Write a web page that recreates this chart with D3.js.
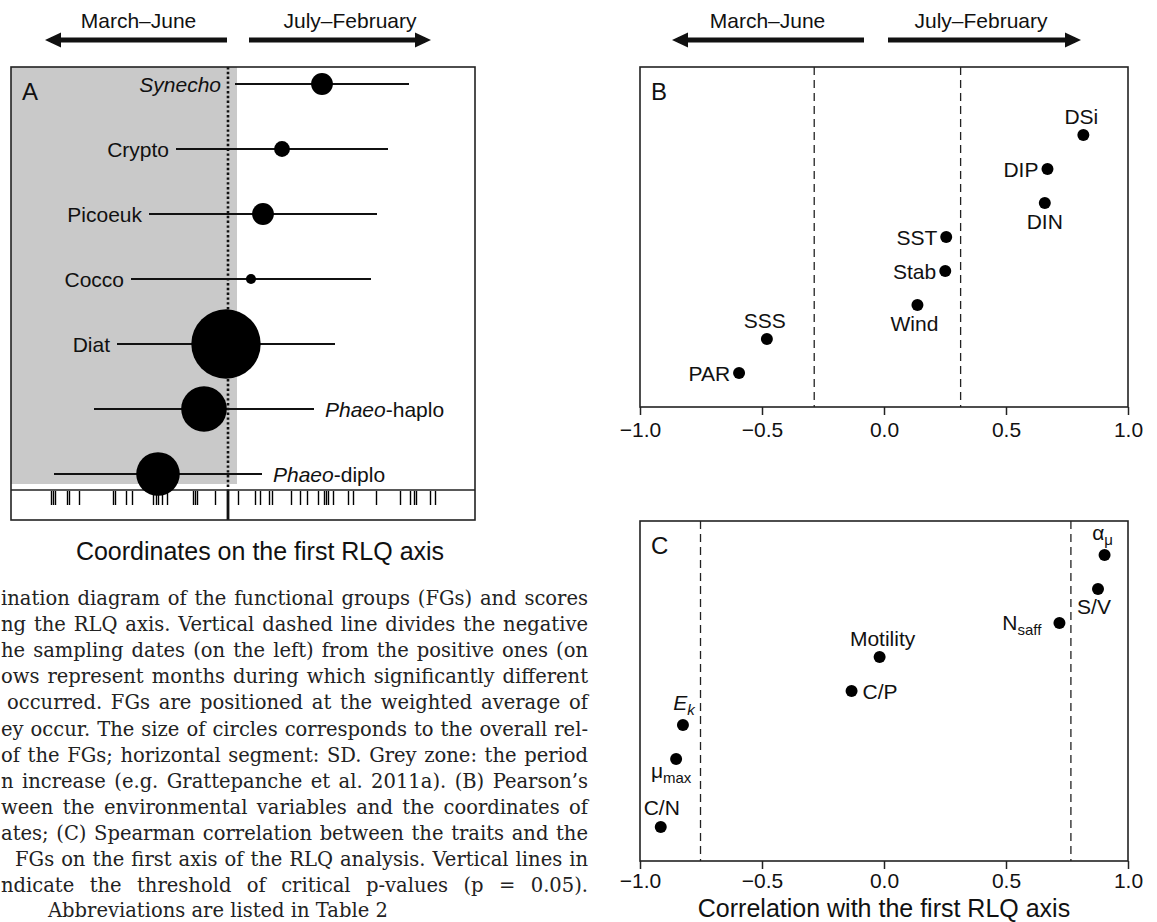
<!DOCTYPE html>
<html><head><meta charset="utf-8">
<script src="https://cdn.jsdelivr.net/npm/d3@7"></script>
<style>body{margin:0;background:#fff}svg{display:block}</style>
</head><body>
<svg id="fig" width="1157" height="922"></svg>
<script>
// ---------- Panel A data ----------
const fgNames = ["Synecho","Crypto","Picoeuk","Cocco","Diat","Phaeo-haplo","Phaeo-diplo"];
const fgMean = [0.94, 0.54, 0.35, 0.23, -0.02, -0.24, -0.70];
const fgSD = [0.87, 1.06, 1.14, 1.20, 1.09, 1.10, 1.04];
const fgAbundance = [4.7, 2.5, 4.7, 1.0, 47.7, 20.6, 18.8];
const samplingScores = [-1.77,-1.75,-1.73,-1.61,-1.59,-1.49,-1.15,-1.13,-1.02,-0.96,
  -0.75,-0.72,-0.70,-0.66,-0.61,-0.35,-0.33,-0.31,-0.13,0.10,0.27,0.32,0.41,0.44,
  0.63,0.72,0.79,0.90,0.96,0.98,1.00,1.05,1.20,1.25,1.48,1.72,1.82,1.86,1.88,2.02,2.07];
const greyZoneEnd = 0.09;
const periodLabels = ["March–June","July–February"];

// ---------- Panel B data ----------
const envVars = ["DSi","DIP","DIN","SST","Stab","Wind","SSS","PAR"];
const envCorr = [0.817, 0.670, 0.659, 0.255, 0.251, 0.137, -0.480, -0.594];
const envRank = [2,3,4,5,6,7,8,9];
const envThreshold = [-0.286, 0.314];

// ---------- Panel C data ----------
const traits = ["αμ","S/V","Nsaff","Motility","C/P","Ek","μmax","C/N"];
const traitCorr = [0.904, 0.877, 0.719, -0.018, -0.133, -0.824, -0.852, -0.915];
const traitRank = [1,2,3,4,5,6,7,9];
const traitThreshold = [-0.752, 0.766];

const corrTicks = [-1, -0.5, 0, 0.5, 1];
const axisTitleA = "Coordinates on the first RLQ axis";
const axisTitleC = "Correlation with the first RLQ axis";

const captionLines = [
  "ination diagram of the functional groups (FGs) and scores",
  "ng the RLQ axis. Vertical dashed line divides the negative",
  "he sampling dates (on the left) from the positive ones (on",
  "ows represent months during which significantly different",
  "occurred. FGs are positioned at the weighted average of",
  "ey occur. The size of circles corresponds to the overall rel-",
  "of the FGs; horizontal segment: SD. Grey zone: the period",
  "n increase (e.g. Grattepanche et al. 2011a). (B) Pearson’s",
  "ween the environmental variables and the coordinates of",
  "ates; (C) Spearman correlation between the traits and the",
  "FGs on the first axis of the RLQ analysis. Vertical lines in",
  "ndicate the threshold of critical p-values (p = 0.05).",
  "Abbreviations are listed in Table 2"
];

// ---------- drawing ----------
const svg = d3.select("#fig");
const SANS = "'Liberation Sans', Arial, Helvetica, sans-serif";
const INK = "#111";

function arrow(g, xFrom, xTip, y) {
  const dir = Math.sign(xTip - xFrom), hl = 16, hw = 7.5, t = 2.6;
  const xb = xTip - dir*hl;
  g.append("path")
    .attr("d", `M${xFrom},${y-t}L${xb},${y-t}L${xb},${y-hw}L${xTip},${y}L${xb},${y+hw}L${xb},${y+t}L${xFrom},${y+t}Z`)
    .attr("fill", INK);
}
function header(cx1, cx2, a1, a2, b1, b2) {
  const g = svg.append("g");
  g.append("text").attr("x", cx1).attr("y", 28).attr("text-anchor","middle")
    .attr("font-family", SANS).attr("font-size", 21).attr("fill", INK).text(periodLabels[0]);
  g.append("text").attr("x", cx2).attr("y", 28).attr("text-anchor","middle")
    .attr("font-family", SANS).attr("font-size", 21).attr("fill", INK).text(periodLabels[1]);
  arrow(g, a2, a1, 40);
  arrow(g, b1, b2, 40);
}

// ===== Panel A =====
const A = {left: 11, right: 475, top: 67, bottom: 490, rugBottom: 520};
const xA = d3.scaleLinear().domain([-2.17, 2.47]).range([A.left, A.right]);
const yA = d3.scalePoint().domain(fgNames).range([84, 474]);
const rA = d3.scaleSqrt().domain([0, d3.max(fgAbundance)]).range([0, 34.7]);
const gA = svg.append("g");

gA.append("rect").attr("x", A.left).attr("y", A.top)
  .attr("width", xA(greyZoneEnd) - A.left).attr("height", 484 - A.top).attr("fill", "#c9c9c9");
// zero line (dotted)
gA.append("line").attr("x1", xA(0)).attr("x2", xA(0)).attr("y1", A.top).attr("y2", A.bottom)
  .attr("stroke", INK).attr("stroke-width", 2.6).attr("stroke-dasharray", "2.4,2.4");
// rug
gA.selectAll("line.rug").data(samplingScores).join("line").attr("class","rug")
  .attr("x1", d => Math.round(xA(d)) + 0.5).attr("x2", d => Math.round(xA(d)) + 0.5)
  .attr("y1", A.bottom + 1).attr("y2", A.bottom + 15)
  .attr("stroke", "#000").attr("stroke-width", 1.4);
gA.append("line").attr("x1", xA(0)).attr("x2", xA(0)).attr("y1", A.bottom).attr("y2", A.rugBottom)
  .attr("stroke", INK).attr("stroke-width", 2.8);
// frame
gA.append("rect").attr("x", A.left).attr("y", A.top).attr("width", A.right - A.left)
  .attr("height", A.rugBottom - A.top).attr("fill", "none").attr("stroke", "#222").attr("stroke-width", 1.6);
gA.append("line").attr("x1", A.left).attr("x2", A.right).attr("y1", A.bottom).attr("y2", A.bottom)
  .attr("stroke", "#222").attr("stroke-width", 1.6);

const fg = fgNames.map((n, i) => ({name: n, mean: fgMean[i], sd: fgSD[i], ab: fgAbundance[i]}));
gA.selectAll("line.sd").data(fg).join("line").attr("class","sd")
  .attr("x1", d => xA(d.mean - d.sd)).attr("x2", d => xA(d.mean + d.sd))
  .attr("y1", d => yA(d.name)).attr("y2", d => yA(d.name))
  .attr("stroke", INK).attr("stroke-width", 1.9);
const rightLabelled = new Set(["Phaeo-haplo","Phaeo-diplo"]);
fg.forEach(d => {
  const t = gA.append("text").attr("font-family", SANS).attr("font-size", 21).attr("fill", INK)
    .attr("y", yA(d.name) + 7.5);
  if (rightLabelled.has(d.name)) {
    t.attr("x", xA(d.mean + d.sd) + 11).attr("text-anchor", "start");
    const parts = d.name.split("-");
    t.append("tspan").attr("font-style", "italic").text(parts[0]);
    t.append("tspan").text("-" + parts[1]);
  } else {
    t.attr("x", Math.min(xA(d.mean - d.sd), xA(0)) - 7).attr("text-anchor", "end");
    t.append("tspan").attr("font-style", d.name === "Synecho" ? "italic" : "normal").text(d.name);
  }
});
gA.selectAll("circle").data(fg).join("circle")
  .attr("cx", d => xA(d.mean)).attr("cy", d => yA(d.name)).attr("r", d => rA(d.ab)).attr("fill", "#000");
gA.append("text").attr("x", A.left + 11).attr("y", A.top + 33).attr("font-family", SANS)
  .attr("font-size", 24).attr("fill", INK).text("A");
gA.append("text").attr("x", (A.left + A.right) / 2 + 17).attr("y", 560).attr("text-anchor", "middle")
  .attr("font-family", SANS).attr("font-size", 25).attr("fill", INK).text(axisTitleA);
header(138.5, 350, 45, 227, 249, 431);

// ===== Panels B & C =====
const xBC = d3.scaleLinear().domain([-1, 1]).range([640, 1128]);
header(767.5, 981, 672, 864, 888, 1081);

function corrPanel(top, letter, names, corr, rank, thr, labelFn, pad) {
  const bottom = top + 340;
  const y = d3.scaleLinear().domain([0, 10]).range([top, bottom]);
  const g = svg.append("g");
  g.selectAll("line.thr").data(thr).join("line").attr("class","thr")
    .attr("x1", d => xBC(d)).attr("x2", d => xBC(d)).attr("y1", top).attr("y2", bottom)
    .attr("stroke", "#222").attr("stroke-width", 1.3).attr("stroke-dasharray", "8,5");
  g.append("rect").attr("x", 640).attr("y", top).attr("width", 488).attr("height", 340)
    .attr("fill", "none").attr("stroke", "#222").attr("stroke-width", 1.6);
  const ax = g.append("g").attr("transform", `translate(0,${bottom})`)
    .call(d3.axisBottom(xBC).tickValues(corrTicks).tickSize(8).tickPadding(pad).tickFormat(d3.format(".1f")));
  ax.select(".domain").remove();
  ax.selectAll("line").attr("stroke", "#222").attr("stroke-width", 1.5);
  ax.selectAll("text").attr("font-family", SANS).attr("font-size", 21).attr("fill", INK);
  const pts = names.map((n, i) => ({name: n, x: xBC(corr[i]), y: y(rank[i])}));
  g.selectAll("circle").data(pts).join("circle")
    .attr("cx", d => d.x).attr("cy", d => d.y).attr("r", 6).attr("fill", "#000");
  pts.forEach(p => labelFn(g, p));
  g.append("text").attr("x", 651).attr("y", top + 33).attr("font-family", SANS)
    .attr("font-size", 24).attr("fill", INK).text(letter);
  return g;
}

const envPlace = {DSi:["top",-2], DIP:["left",0], DIN:["bottom",0], SST:["left",0], Stab:["left",0],
                  Wind:["bottom",-3], SSS:["top",-2], PAR:["left",0]};
corrPanel(67, "B", envVars, envCorr, envRank, envThreshold, (g, p) => {
  const [side, dx] = envPlace[p.name];
  const t = g.append("text").attr("font-family", SANS).attr("font-size", 21).attr("fill", INK).text(p.name);
  if (side === "left") t.attr("x", p.x - 9).attr("y", p.y + 7.5).attr("text-anchor", "end");
  else if (side === "top") t.attr("x", p.x + dx).attr("y", p.y - 11).attr("text-anchor", "middle");
  else t.attr("x", p.x + dx).attr("y", p.y + 26).attr("text-anchor", "middle");
}, 7);

// trait label spec: [main, subscript, italic, anchor, dx, baselineDy]
const traitLabel = {
  "αμ": ["α","μ",false,"middle",-2,-15],
  "S/V": ["S/V","",false,"middle",-4,25],
  "Nsaff": ["N","saff",false,"end",-18,7],
  "Motility": ["Motility","",false,"middle",3,-11],
  "C/P": ["C/P","",false,"start",11,7.5],
  "Ek": ["E","k",true,"middle",1,-15],
  "μmax": ["μ","max",false,"middle",-5,19],
  "C/N": ["C/N","",false,"middle",1,-12]
};
corrPanel(521, "C", traits, traitCorr, traitRank, traitThreshold, (g, p) => {
  const [main, sub, ital, anchor, dx, dy] = traitLabel[p.name];
  const t = g.append("text").attr("font-family", SANS).attr("font-size", 21).attr("fill", INK)
    .attr("x", p.x + dx).attr("y", p.y + dy).attr("text-anchor", anchor);
  t.append("tspan").attr("font-style", ital ? "italic" : "normal").text(main);
  if (sub) t.append("tspan").attr("font-size", 15).attr("dy", 4.5)
    .attr("font-style", ital ? "italic" : "normal").text(sub);
}, 4);
svg.append("text").attr("x", 884).attr("y", 917).attr("text-anchor", "middle")
  .attr("font-family", SANS).attr("font-size", 25).attr("fill", INK).text(axisTitleC);

// ===== Caption =====
const SERIF = "'DejaVu Serif', 'Liberation Serif', serif";
const capStart = [1, 1, 1, 1, 7, 1, 1, 1, 1, 1, 15, 1];
const capEnd = 588, capBase = 605, capStep = 26.1;
const gCap = svg.append("g").attr("fill", "#222").attr("font-family", SERIF);
function measure(str, fs) {
  const t = gCap.append("text").attr("font-size", fs).attr("x", -1000).attr("y", -1000).text(str);
  const w = t.node().getComputedTextLength(); t.remove(); return w;
}
const lastLine = captionLines[captionLines.length - 1];
const capFs = 20 * 340 / measure(lastLine, 20);
captionLines.forEach((line, i) => {
  const y = capBase + i * capStep;
  if (i === captionLines.length - 1) {
    gCap.append("text").attr("font-size", capFs).attr("x", 48).attr("y", y - 1).text(line);
    return;
  }
  const words = line.split(" ");
  const widths = words.map(w => measure(w, capFs));
  const gap = (capEnd - capStart[i] - d3.sum(widths)) / (words.length - 1);
  let x = capStart[i];
  words.forEach((w, k) => {
    gCap.append("text").attr("font-size", capFs).attr("x", x).attr("y", y).text(w);
    x += widths[k] + gap;
  });
});
</script>
</body></html>
